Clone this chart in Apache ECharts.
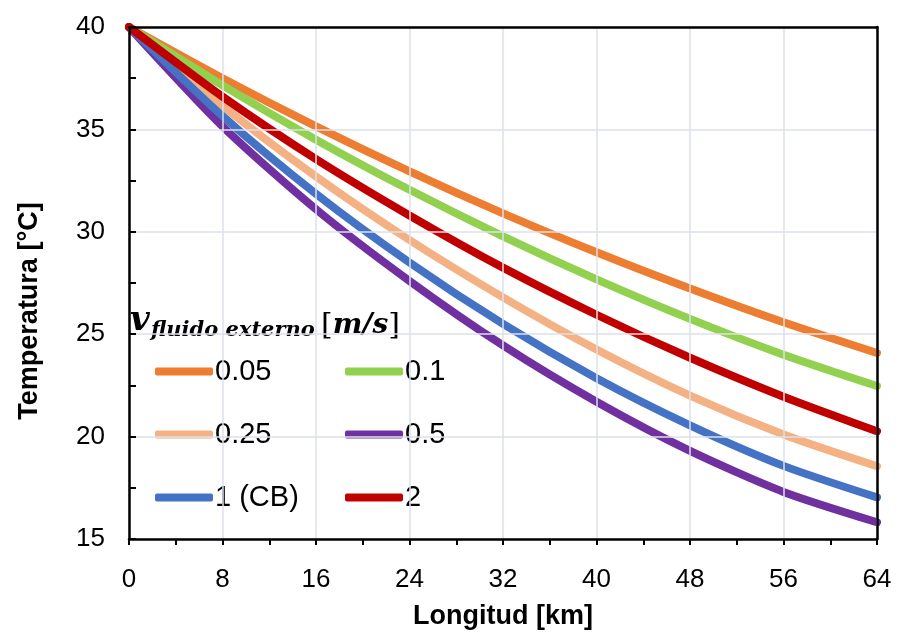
<!DOCTYPE html>
<html>
<head>
<meta charset="utf-8">
<script src="https://cdn.jsdelivr.net/npm/echarts@6/dist/echarts.min.js"></script>
<style>html,body{margin:0;padding:0;background:#fff}#c{width:899px;height:635px}</style>
</head>
<body>
<div id="c"></div>
<script>
const longitud = [0, 8, 16, 24, 32, 40, 48, 56, 64];
const seriesNames = ['0.05', '0.1', '0.25', '0.5', '1 (CB)', '2'];
const v005 = [40, 37.5, 35.15, 32.95, 30.9, 29.0, 27.23, 25.58, 24.08];
const v01  = [40, 37.15, 34.5, 32.05, 29.78, 27.68, 25.75, 24.0, 22.47];
const v025 = [40, 36.15, 32.7, 29.6, 26.8, 24.25, 22.0, 20.1, 18.55];
const v05  = [40, 35.15, 31.1, 27.6, 24.45, 21.7, 19.3, 17.3, 15.82];
const v1CB = [40, 35.65, 31.85, 28.5, 25.5, 22.85, 20.55, 18.57, 17.03];
const v2   = [40, 36.6, 33.55, 30.8, 28.25, 25.95, 23.85, 21.95, 20.26];
const yTicks = [15, 20, 25, 30, 35, 40];
const xTicks = [0, 8, 16, 24, 32, 40, 48, 56, 64];

const colors = ['#ED7D31', '#92D050', '#F4B183', '#7030A0', '#4472C4', '#C00000'];
const values = [v005, v01, v025, v05, v1CB, v2];

const chart = echarts.init(document.getElementById('c'));
const font = '"Liberation Sans", Arial, sans-serif';
const serif = '"DejaVu Serif", "Liberation Serif", serif';

const series = seriesNames.map((n, i) => ({
  name: n,
  type: 'line',
  smooth: 0.25,
  showSymbol: false,
  symbol: 'none',
  data: longitud.map((x, j) => [x, values[i][j]]),
  lineStyle: { color: colors[i], width: 8, cap: 'round' },
  itemStyle: { color: colors[i] },
  z: 3 + i
}));

const legendCommon = {
  orient: 'vertical',
  itemWidth: 58,
  itemHeight: 8,
  itemGap: 34,
  icon: 'roundRect',
  textStyle: { fontFamily: font, fontSize: 29, color: '#000', padding: [0, 0, 0, -3] },
  selectedMode: false
};

const axisLineStyle = { color: '#000', width: 2.5 };

chart.setOption({
  animation: false,
  backgroundColor: '#fff',
  grid: { left: 129, right: 22, top: 27, bottom: 96, containLabel: false },
  legend: [
    Object.assign({ left: 150, top: 352, data: ['0.05', '0.25', '1 (CB)'] }, legendCommon),
    Object.assign({ left: 340, top: 352, data: ['0.1', '0.5', '2'] }, legendCommon)
  ],
  xAxis: [{
    type: 'value', min: 0, max: 64, interval: 8,
    axisLine: { show: true, onZero: false, lineStyle: axisLineStyle },
    axisTick: { show: true, inside: false, length: 6, lineStyle: { color: '#000', width: 2 } },
    minorTick: { show: true, splitNumber: 2, length: 6, lineStyle: { color: '#000', width: 2 } },
    splitLine: { show: true, lineStyle: { color: '#DDE1E8', width: 1.5 } },
    axisLabel: { fontFamily: font, fontSize: 26, color: '#000', margin: 28,
      formatter: v => xTicks.indexOf(v) >= 0 ? String(v) : '' },
    name: 'Longitud [km]', nameLocation: 'middle', nameGap: 64,
    nameTextStyle: { fontFamily: font, fontSize: 27, fontWeight: 'bold', color: '#000' },
    z: 10
  }, {
    type: 'value', min: 0, max: 64, position: 'top',
    axisLine: { show: true, onZero: false, lineStyle: axisLineStyle },
    axisTick: { show: false }, axisLabel: { show: false }, splitLine: { show: false }, z: 10
  }],
  yAxis: [{
    type: 'value', min: 15, max: 40, interval: 5,
    axisLine: { show: true, onZero: false, lineStyle: axisLineStyle },
    axisTick: { show: true, inside: true, length: 7, lineStyle: { color: '#000', width: 2 } },
    minorTick: { show: true, splitNumber: 2, length: 7, lineStyle: { color: '#000', width: 2 } },
    splitLine: { show: true, lineStyle: { color: '#DDE1E8', width: 1.5 } },
    axisLabel: { fontFamily: font, fontSize: 26, color: '#000', margin: 24,
      formatter: v => yTicks.indexOf(v) >= 0 ? String(v) : '' },
    z: 10
  }, {
    type: 'value', min: 15, max: 40, position: 'right',
    axisLine: { show: true, onZero: false, lineStyle: axisLineStyle },
    axisTick: { show: false }, axisLabel: { show: false }, splitLine: { show: false }, z: 10
  }],
  graphic: [
    {
      type: 'text', x: 30, y: 311, rotation: Math.PI / 2,
      style: { text: 'Temperatura [°C]', font: 'bold 27px ' + font, fill: '#000', align: 'center', verticalAlign: 'middle' }
    },
    {
      type: 'text', x: 130, y: 338, z: 10,
      style: { text: 'v', font: 'italic bold 34px ' + serif, fill: '#000', verticalAlign: 'bottom' }
    },
    {
      type: 'text', x: 151, y: 341, z: 10,
      style: { text: 'fluido externo', font: 'italic bold 21px ' + serif, fill: '#000', verticalAlign: 'bottom' }
    },
    {
      type: 'text', x: 321, y: 341, z: 10,
      style: {
        text: '{u|[}{m|m/s}{u|]}',
        verticalAlign: 'bottom',
        rich: {
          u: { fontFamily: serif, fontSize: 30, fill: '#000' },
          m: { fontFamily: serif, fontStyle: 'italic', fontWeight: 'bold', fontSize: 28, fill: '#000' }
        }
      }
    }
  ],
  series: series
});
</script>
</body>
</html>
